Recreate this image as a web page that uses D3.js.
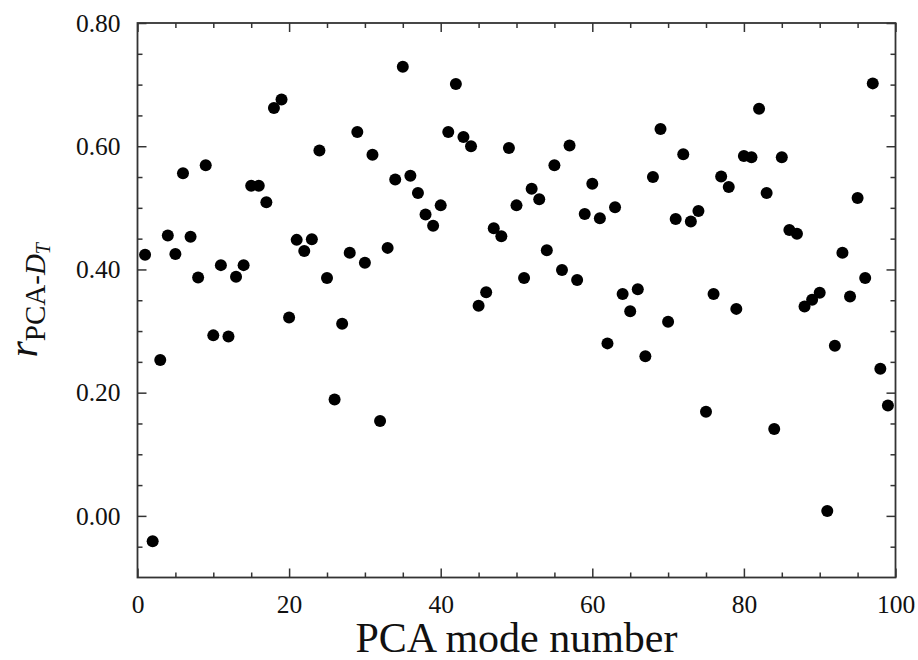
<!DOCTYPE html>
<html>
<head>
<meta charset="utf-8">
<script src="https://cdn.jsdelivr.net/npm/d3@7"></script>
<style>
  body { margin: 0; background: #fff; }
  svg text { font-family: "Liberation Serif", "Times New Roman", serif; fill: #111; }
  .axis path { display: none; }
  .axis line { stroke: #333; stroke-width: 1.5; }
</style>
</head>
<body>
<div id="chart"></div>
<script>
// PCA mode numbers and correlation values r(PCA-D_T)
var modes = [1,2,3,4,5,6,7,8,9,10,11,12,13,14,15,16,17,18,19,20,
  21,22,23,24,25,26,27,28,29,30,31,32,33,34,35,36,37,38,39,40,
  41,42,43,44,45,46,47,48,49,50,51,52,53,54,55,56,57,58,59,60,
  61,62,63,64,65,66,67,68,69,70,71,72,73,74,75,76,77,78,79,80,
  81,82,83,84,85,86,87,88,89,90,91,92,93,94,95,96,97,98,99];
var rValues = [0.424,-0.041,0.253,0.455,0.425,0.556,0.453,0.387,0.569,0.293,
  0.407,0.291,0.388,0.407,0.536,0.536,0.509,0.662,0.676,0.322,
  0.448,0.430,0.449,0.593,0.386,0.189,0.312,0.427,0.623,0.411,
  0.586,0.154,0.435,0.546,0.729,0.552,0.524,0.489,0.471,0.504,
  0.623,0.701,0.615,0.600,0.341,0.363,0.467,0.454,0.597,0.504,
  0.386,0.531,0.514,0.431,0.569,0.399,0.601,0.383,0.490,0.539,
  0.483,0.280,0.501,0.360,0.332,0.368,0.259,0.550,0.628,0.315,
  0.482,0.587,0.478,0.495,0.169,0.360,0.551,0.534,0.336,0.584,
  0.582,0.661,0.524,0.141,0.582,0.464,0.458,0.340,0.351,0.362,
  0.008,0.276,0.427,0.356,0.516,0.386,0.702,0.239,0.179];

var xMajor = [0,20,40,60,80,100];
var xMinor = [5,10,15,25,30,35,45,50,55,65,70,75,85,90,95];
var yMajor = [0.0,0.2,0.4,0.6,0.8];
var yMinor = [-0.05,0.05,0.1,0.15,0.25,0.3,0.35,0.45,0.5,0.55,0.65,0.7,0.75];

var W = 918, H = 660;
var margin = {top: 23, right: 22.5, bottom: 82.5, left: 137.5};
var width = W - margin.left - margin.right,
    height = H - margin.top - margin.bottom;

var svg = d3.select("#chart").append("svg")
  .attr("width", W).attr("height", H)
  .append("g")
  .attr("transform", "translate(" + margin.left + "," + margin.top + ")");

var x = d3.scaleLinear().domain([0, 100]).range([0, width]);
var y = d3.scaleLinear().domain([-0.1, 0.8]).range([height, 0]);

// ticks on all four sides, pointing inward
function addAxis(axisFn, scale, vals, size, labels, tr){
  var ax = axisFn(scale).tickValues(vals).tickSize(-size).tickPadding(14);
  if (!labels) ax.tickFormat("");
  else ax.tickFormat(scale === x ? d3.format("d") : d3.format(".2f"));
  var g = svg.append("g").attr("class", "axis");
  if (tr) g.attr("transform", tr);
  g.call(ax);
  g.attr("font-family", null).attr("font-size", null);
  g.selectAll("text")
    .style("font-family", "'Liberation Serif', 'Times New Roman', serif")
    .style("font-size", "25.5px").attr("fill", "#111");
  return g;
}
addAxis(d3.axisBottom, x, xMajor, 9, true, "translate(0," + height + ")")
  .selectAll("text").attr("dy", "0.85em");
addAxis(d3.axisBottom, x, xMinor, 5, false, "translate(0," + height + ")");
addAxis(d3.axisTop, x, xMajor, 9, false);
addAxis(d3.axisTop, x, xMinor, 5, false);
addAxis(d3.axisLeft, y, yMajor, 9, true).selectAll("text").attr("dx", "-3");
addAxis(d3.axisLeft, y, yMinor, 5, false);
addAxis(d3.axisRight, y, yMajor, 9, false, "translate(" + width + ",0)");
addAxis(d3.axisRight, y, yMinor, 5, false, "translate(" + width + ",0)");

// frame
svg.append("rect")
  .attr("width", width).attr("height", height)
  .attr("fill", "none").attr("stroke", "#333").attr("stroke-width", 1.8);

// points
svg.selectAll(".dot")
  .data(modes)
  .enter().append("circle")
  .attr("class", "dot")
  .attr("cx", function(d){ return x(d); })
  .attr("cy", function(d, i){ return y(rValues[i]); })
  .attr("r", 6)
  .attr("fill", "#000");

// x axis title
svg.append("text")
  .attr("x", width / 2)
  .attr("y", height + 74)
  .attr("text-anchor", "middle")
  .style("font-size", "42px")
  .text("PCA mode number");

// y axis title: r_{PCA-D_T}
var yl = svg.append("text")
  .attr("transform", "translate(" + (37 - margin.left) + "," + (height / 2) + ") rotate(-90)")
  .attr("text-anchor", "middle");
yl.append("tspan").style("font-size", "42px").style("font-style", "italic").text("r");
yl.append("tspan").style("font-size", "29px").attr("dy", 8).text("PCA-");
yl.append("tspan").style("font-size", "29px").style("font-style", "italic").text("D");
yl.append("tspan").style("font-size", "20px").style("font-style", "italic").attr("dy", 5).text("T");
</script>
</body>
</html>
